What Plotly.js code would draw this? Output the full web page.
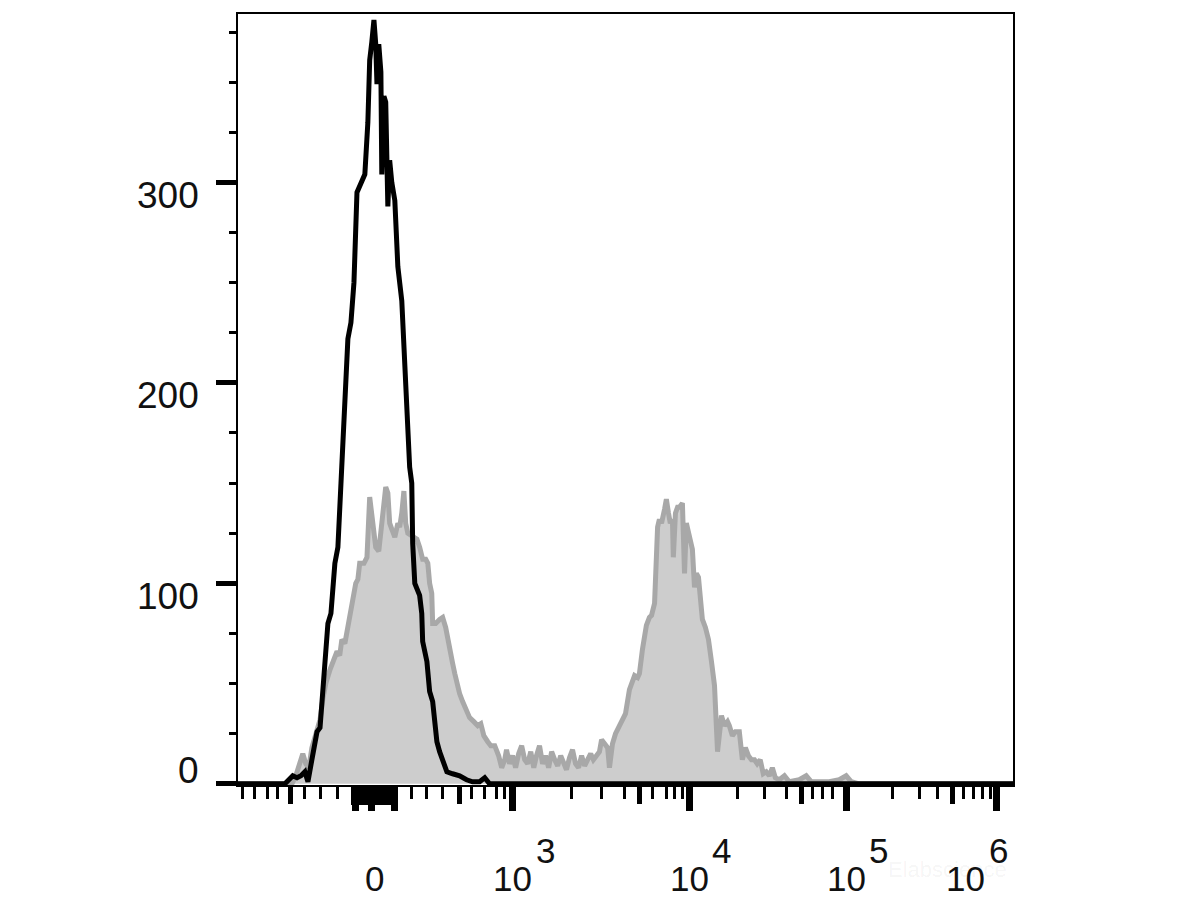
<!DOCTYPE html>
<html>
<head>
<meta charset="utf-8">
<script src="https://cdn.plot.ly/plotly-3.0.1.min.js"></script>
<style>html,body{margin:0;padding:0;background:#fff;}#chart{width:1200px;height:900px;}</style>
</head>
<body>
<div id="chart"></div>
<script>
// x values are display channels (0-256) of the biexponential FL axis; y = cell count
const stainedX = [0,17.8,19.1,20.5,21.4,22.4,23.4,24.4,25.7,27.1,28.0,29.0,30.4,31.3,32.7,33.6,34.3,35.3,36.3,37.3,37.9,38.9,39.6,40.2,41.6,42.6,43.5,44.5,45.5,46.5,47.2,48.2,48.8,49.5,50.1,50.8,51.8,52.8,53.4,54.1,54.8,55.4,56.1,57.1,58.1,59.1,60.0,61.0,62.0,62.7,63.3,64.0,64.3,65.3,66.6,67.6,68.6,69.3,69.9,70.9,71.6,72.2,73.2,74.2,75.2,76.5,77.9,79.2,80.2,81.2,82.5,83.5,84.8,86.1,87.1,88.1,88.7,89.7,90.7,91.7,92.7,93.7,94.7,95.7,96.7,97.7,98.6,99.6,100.6,101.6,102.6,103.6,104.6,105.6,106.6,107.5,108.5,109.5,110.5,111.5,112.5,113.5,114.5,115.5,116.5,117.4,118.4,119.4,120.1,121.1,122.1,122.7,123.7,124.7,125.7,126.7,128.0,129.3,130.3,131.0,132.0,132.6,133.6,134.9,135.9,136.6,137.6,138.2,138.6,139.2,139.9,140.9,141.5,142.2,142.8,143.5,143.8,144.5,145.2,145.8,146.8,147.1,147.5,148.1,148.8,149.4,150.1,150.8,151.4,152.1,152.7,153.4,154.4,155.4,156.4,157.4,158.4,159.7,160.7,161.7,162.3,163.3,164.3,165.6,166.6,167.6,168.6,169.6,170.6,171.5,172.5,173.5,174.5,175.5,176.5,177.5,178.8,180.5,182.1,185.4,187.7,189.4,192.0,195.3,198.6,200.9,202.6,205.2,256];
const stainedCount = [0,0,4,12,15,10,8,18,25,32,42,50,57,60,66,64,72,70,78,85,92,100,102,110,110,113,143,130,118,116,125,140,148,145,130,127,123,130,128,135,146,130,125,124,123,122,118,112,112,110,100,95,80,80,82,83,78,72,66,60,55,51,45,41,38,33,31,29,30,24,21,19,19,14,8,12,17,10,14,8,15,19,12,10,16,8,14,19,10,14,8,16,12,9,14,10,7,13,17,10,8,14,9,12,15,12,14,16,22,20,18,8,20,25,28,30,35,47,52,54,53,55,67,79,83,84,90,110,128,132,130,137,142,135,130,132,113,135,138,138,140,125,105,130,125,120,117,98,105,103,90,82,78,72,61,49,16,34,29,31,29,24,26,26,12,18,14,12,12,10,12,5,6,4,8,3,2,4,1,2,4,1,1,1,2,4,1,0,0];

const controlX = [0,15.5,16.8,18.1,19.5,20.8,22.1,23.1,24.4,26.1,27.1,28.0,29.7,30.7,32.0,33.0,34.3,35.3,36.3,37.3,38.3,39.3,40.6,41.9,42.9,43.5,44.2,44.9,45.5,45.9,46.5,47.2,47.5,48.2,48.8,49.5,50.1,50.8,51.8,52.8,54.1,55.1,56.1,56.7,57.4,57.7,58.4,59.4,60.0,60.7,61.0,62.4,63.3,64.3,65.0,65.7,66.6,67.6,69.0,70.9,73.2,75.5,77.5,79.8,81.5,83.1,256];
const controlCount = [0,0,2,4,3,4,6,1,12,26,28,45,80,85,110,118,160,200,222,230,250,295,300,304,330,361,370,381,369,349,369,355,304,343,340,288,311,300,291,258,241,205,167,158,150,120,100,96,94,85,71,61,46,41,30,21,16,11,6,5,4,2,1,1,3,0,0];

// axis ticks (display channels)
const xMinorTicks = [1.6,5.6,9.6,13.2,22.1,27.1,33.0,57.4,62.4,67.6,77.2,81.5,85.4,88.1,110.2,120.1,127.7,136.9,141.5,144.2,146.8,164.9,173.9,181.1,189.7,193.0,196.3,216.1,225.0,230.9,239.8,243.1,245.8,248.7];
const xMidTicks = [17.2,73.2,132.6,186.1,235.9];
const xMajorTicks = [38.9,44.2,51.8,90.7,149.1,200.9,250.7];
const xZeroCluster = [37.9,38.6,39.3,39.9,40.6,41.2,41.9,42.6,43.2,43.9,44.5,45.2,45.9,46.5,47.2,47.8,48.5,49.2,49.8,50.5,51.1,51.8,52.5];
const xLabelPos = [45.2,90.7,149.1,200.9,250.7];
const xLabelBase = ["0","10","10","10","10"];
const xLabelExp = ["","3","4","5","6"];
const yMajorTicks = [0,100,200,300];
const yMinorTicks = [25,50,75,125,150,175,225,250,275,325,350,375];
const yLabels = ["0","100","200","300"];

const FONT = "Liberation Sans, Arial, Helvetica, sans-serif";
const traces = [
  {x: stainedX, y: stainedCount, type: 'scatter', mode: 'lines', fill: 'tozeroy',
   fillcolor: 'rgb(205,205,205)', line: {color: 'rgb(168,168,168)', width: 5}, hoverinfo: 'skip'},
  {x: controlX, y: controlCount, type: 'scatter', mode: 'lines',
   line: {color: '#000', width: 5}, hoverinfo: 'skip'},
  {x: [], y: [], xaxis: 'x2', yaxis: 'y', type: 'scatter'},
  {x: [], y: [], xaxis: 'x3', yaxis: 'y', type: 'scatter'},
  {x: [], y: [], xaxis: 'x4', yaxis: 'y', type: 'scatter'},
  {x: [], y: [], xaxis: 'x', yaxis: 'y2', type: 'scatter'}
];

const xr = [0, 256], yr = [-0.6, 384];
function tickAxis(vals, len, w, extra) {
  return Object.assign({range: xr, overlaying: 'x', anchor: 'y', side: 'bottom', showline: false,
    showgrid: false, zeroline: false, ticks: 'outside', tickmode: 'array', tickvals: vals,
    ticklen: len, tickwidth: w, tickcolor: '#000', showticklabels: false, fixedrange: true}, extra || {});
}

const annotations = [];
yMajorTicks.forEach((v, i) => {
  annotations.push({xref: 'paper', yref: 'y', x: 0, y: v, text: yLabels[i], showarrow: false,
    xanchor: 'right', yanchor: 'middle', xshift: -37, yshift: v === 0 ? 13 : -13,
    font: {family: FONT, size: 37, color: '#111'}});
});
xLabelPos.forEach((v, i) => {
  const shift = i === xLabelPos.length - 1 ? -31 : 0;
  annotations.push({xref: 'x', yref: 'paper', x: v, y: 0, text: xLabelBase[i], showarrow: false,
    xanchor: 'center', yanchor: 'middle', xshift: shift, yshift: -93,
    font: {family: FONT, size: 35, color: '#111'}});
  if (xLabelExp[i]) {
    annotations.push({xref: 'x', yref: 'paper', x: v, y: 0, text: xLabelExp[i], showarrow: false,
      xanchor: 'left', yanchor: 'middle', xshift: shift + 21, yshift: -65,
      font: {family: FONT, size: 35, color: '#111'}});
  }
});
annotations.push({xref: 'paper', yref: 'paper', x: 0.916, y: -0.109, text: 'Elabscience', showarrow: false,
  xanchor: 'center', yanchor: 'middle', font: {family: FONT, size: 22, color: 'rgba(0,0,0,0.05)'}});

const layout = {
  width: 1200, height: 900,
  margin: {l: 238, r: 187, t: 14, b: 115},
  paper_bgcolor: '#fff', plot_bgcolor: '#fff',
  showlegend: false,
  xaxis: {range: xr, showline: true, mirror: true, linecolor: '#000', linewidth: 2,
    showgrid: false, zeroline: false, ticks: 'outside', tickmode: 'array', tickvals: xMinorTicks,
    ticklen: 12, tickwidth: 3, tickcolor: '#000', showticklabels: false, fixedrange: true},
  xaxis2: tickAxis(xMidTicks, 18, 5),
  xaxis3: tickAxis(xMajorTicks, 25, 7),
  xaxis4: tickAxis(xZeroCluster, 19, 3),
  yaxis: {range: yr, showline: true, mirror: true, linecolor: '#000', linewidth: 2,
    showgrid: false, zeroline: false, ticks: 'outside', tickmode: 'array', tickvals: yMajorTicks,
    ticklen: 20, tickwidth: 5, tickcolor: '#000', showticklabels: false, fixedrange: true},
  yaxis2: {range: yr, overlaying: 'y', anchor: 'x', side: 'left', showline: false, showgrid: false,
    zeroline: false, ticks: 'outside', tickmode: 'array', tickvals: yMinorTicks, ticklen: 8,
    tickwidth: 3, tickcolor: '#000', showticklabels: false, fixedrange: true},
  annotations: annotations
};

Plotly.newPlot('chart', traces, layout, {displayModeBar: false, staticPlot: true});
</script>
</body>
</html>
